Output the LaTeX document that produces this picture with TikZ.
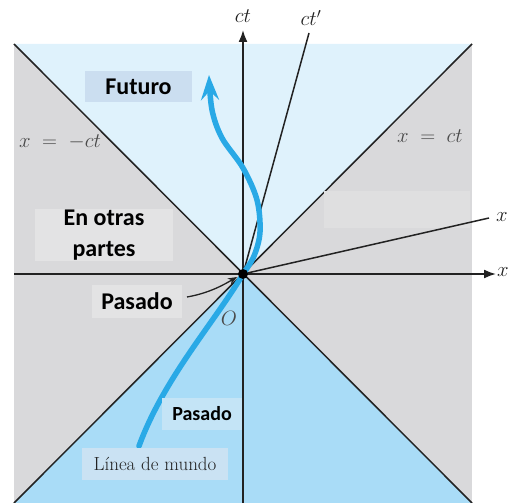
\documentclass[tikz,border=0pt]{standalone}
\usepackage{fontspec}
\usetikzlibrary{arrows.meta}
\newfontfamily\carl{Carlito}
\definecolor{futblue}{HTML}{DFF2FC}
\definecolor{pastblue}{HTML}{A9DCF7}
\definecolor{elsegray}{HTML}{D9D9DB}
\definecolor{wline}{HTML}{29A9E6}
\definecolor{ink}{HTML}{222222}
\definecolor{lbl}{HTML}{4A4A4A}
\definecolor{boxgray}{HTML}{E3E3E4}
\definecolor{blankgray}{HTML}{DFDFE0}
\definecolor{futbox}{HTML}{CBDEF0}
\definecolor{pasbox}{HTML}{C4E4F6}
\definecolor{linbox}{HTML}{CAE2F3}
\tikzset{
  axis/.style={draw=ink, line width=1.7pt},
  thinaxis/.style={draw=ink, line width=1.5pt},
  wl/.style={wline, line width=5.5pt, line cap=round},
  lbox/.style={inner sep=0pt, font=\carl\bfseries\fontsize{24}{31}\selectfont, text=black, align=center},
  mlabel/.style={inner sep=0pt, text=lbl, font=\fontsize{20}{24}\selectfont},
}
\begin{document}
\begin{tikzpicture}[x=1pt,y=-1pt]
\useasboundingbox (0,0) rectangle (509,503);
\clip (0,0) rectangle (509,503);
\coordinate (O) at (243,274);
\coordinate (TL) at (14,44);
\coordinate (TR) at (472,44);
\coordinate (BL) at (14,503);
\coordinate (BR) at (472,503);
% regions
\fill[elsegray] (TL) rectangle (BR);
\fill[futblue] (O) -- (TL) -- (TR) -- cycle;
\fill[pastblue] (O) -- (BL) -- (BR) -- cycle;
% light cone lines
\draw[thinaxis] (TL) -- (BR);
\draw[thinaxis] (TR) -- (BL);
\fill[blankgray] (324,191) rectangle (470,228);
% axes
\coordinate (ctTop) at (243,30);
\coordinate (ctBot) at (243,503);
\coordinate (xL) at (14,274);
\coordinate (xR) at (496,274);
\coordinate (ctp) at (309,33);
\coordinate (xp) at (489,218);
\draw[axis, -{Latex[length=12pt,width=9pt]}] (ctBot) -- (ctTop);
\draw[axis, -{Latex[length=12pt,width=9pt]}] (xL) -- (xR);
\draw[thinaxis] (O) -- (ctp);
\draw[thinaxis] (O) -- (xp);
% world line
\coordinate (wstart) at (139,446);
\draw[wl] (wstart) .. controls (164,378) and (214,323) .. (O);
\draw[wl, -{Stealth[length=25pt,width=18pt,inset=9pt]}]
  plot[smooth, tension=0.55] coordinates {(243,274) (254,256) (260,232) (257,200) (243,168) (222,138) (212,110) (209,75)};
% origin
\fill[black] (O) circle (5pt);
% labels on axes
\node[mlabel, text=ink] (lct) at (243,16) {$ct$};
\node[mlabel, text=ink] (lctp) at (311,18) {$ct'$};
\node[mlabel, text=ink] (lxp) at (502,217) {$x$};
\node[mlabel, text=ink] (lx) at (503,272) {$x$};
\node[mlabel] (lO) at (229,318) {$O$};
\node[mlabel] (lneg) at (60,142) {$x\;=\;-ct$};
\node[mlabel] (lpos) at (430,136) {$x\;=\;ct$};
% text boxes
\node[lbox, fill=futbox, minimum width=107pt, minimum height=31pt] (fut) at (138.5,86.5) {Futuro};
\node[lbox, fill=boxgray, minimum width=138pt, minimum height=52pt] (otras) at (104,235) {En otras\\partes};
\node[lbox, fill=boxgray, minimum width=90pt, minimum height=33pt] (pas1) at (137,301.5) {Pasado};
\node[lbox, font=\carl\bfseries\fontsize{20}{24}\selectfont, fill=pasbox, minimum width=80pt, minimum height=32pt] (pas2) at (202,414) {Pasado};
\node[inner sep=0pt, fill=linbox, minimum width=146pt, minimum height=32pt, font=\fontsize{19}{22}\selectfont, text=ink] (lin) at (155,464) {Línea de mundo};
% arrow from Pasado to O
\coordinate (pa) at (187,297);
\draw[ink, line width=1.3pt, -{Stealth[length=9pt,width=7pt]}] (pa) .. controls (210,293) and (225,284) .. (237,277);
\end{tikzpicture}
\end{document}
